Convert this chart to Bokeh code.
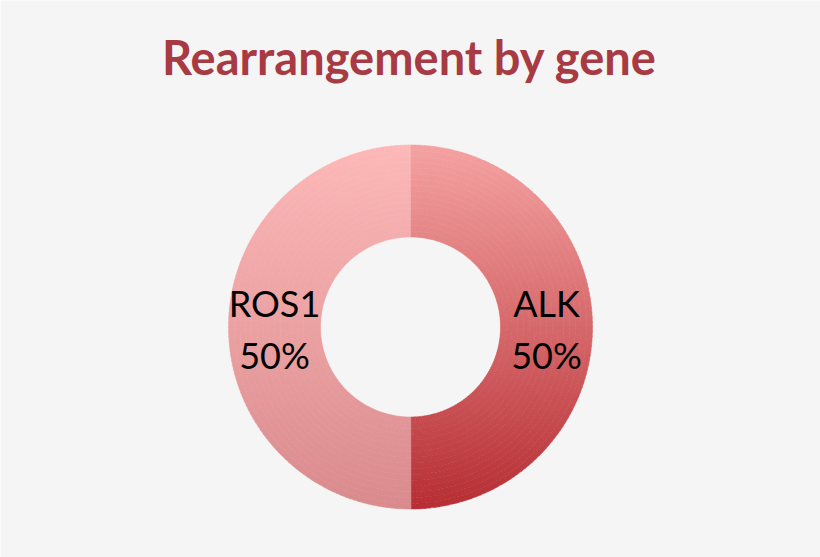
import numpy as np
from bokeh.plotting import figure
from bokeh.models import Range1d, Label, ColumnDataSource
from bokeh.core.properties import value
from bokeh.embed import file_html
from bokeh.resources import INLINE

# ---- data ----
title_text = "Rearrangement by gene"
genes = ["ALK", "ROS1"]
shares = [50, 50]
labels = ["ALK\n50%", "ROS1\n50%"]
top_colors = ["#f5a2a2", "#fdb8b8"]
bottom_colors = ["#b62e33", "#d98a8c"]

# ---- layout ----
W, H = 820, 557
BG = "#f5f5f5"
cx, cy = 410, 557 - 326.5
r_in, r_out = 90, 182

p = figure(width=W, height=H, output_backend="svg", toolbar_location=None,
           x_range=Range1d(0, W), y_range=Range1d(0, H), min_border=0)
p.axis.visible = False
p.grid.visible = False
p.outline_line_color = None
p.background_fill_color = BG
p.border_fill_color = BG


def hex2rgb(h):
    h = h.lstrip("#")
    return np.array([int(h[i:i + 2], 16) for i in (0, 2, 4)], dtype=float)


def rgb2hex(c):
    c = np.clip(np.round(c), 0, 255).astype(int)
    return "#%02x%02x%02x" % tuple(c)


total = float(sum(shares))
cum = np.concatenate([[0], np.cumsum(shares)]) / total
n_ang, n_rad = 120, 16

xs, ys, ir, orr, sa, ea, cols = [], [], [], [], [], [], []
lx, ly, lt = [], [], []
for i, g in enumerate(genes):
    a_end = np.pi / 2 - 2 * np.pi * cum[i]
    a_start = np.pi / 2 - 2 * np.pi * cum[i + 1]
    c_top, c_bot = hex2rgb(top_colors[i]), hex2rgb(bottom_colors[i])
    angs = np.linspace(a_start, a_end, n_ang + 1)
    rads = np.linspace(r_in, r_out, n_rad + 1)
    for j in range(n_ang):
        am = 0.5 * (angs[j] + angs[j + 1])
        for k in range(n_rad):
            rm = 0.5 * (rads[k] + rads[k + 1])
            yrel = rm * np.sin(am)
            t = (r_out - yrel) / (2 * r_out)
            xs.append(cx)
            ys.append(cy)
            ir.append(rads[k])
            orr.append(rads[k + 1])
            sa.append(angs[j])
            ea.append(angs[j + 1] + 0.003)
            cols.append(rgb2hex(c_top + (c_bot - c_top) * t))
    mid = 0.5 * (a_start + a_end)
    rmid = 0.5 * (r_in + r_out)
    lx.append(cx + rmid * np.cos(mid))
    ly.append(cy + rmid * np.sin(mid))
    lt.append(labels[i])

src = ColumnDataSource(dict(x=xs, y=ys, ir=ir, orr=orr, sa=sa, ea=ea, c=cols))
p.annular_wedge(x="x", y="y", inner_radius="ir", outer_radius="orr",
                start_angle="sa", end_angle="ea", fill_color="c",
                line_color="c", line_width=0.5, source=src)

p.text(x=lx, y=ly, text=lt, text_align="center", text_baseline="middle",
       text_font=value("Lato"), text_font_size="36px", text_color="#000000",
       text_line_height=1.16, y_offset=2)

p.add_layout(Label(x=409, y=501, text=title_text, text_align="center",
                   text_baseline="alphabetic", text_font="Lato",
                   text_font_style="bold", text_font_size="47px",
                   text_color="#a83a43"))

open("out.html", "w").write(file_html(p, INLINE))
